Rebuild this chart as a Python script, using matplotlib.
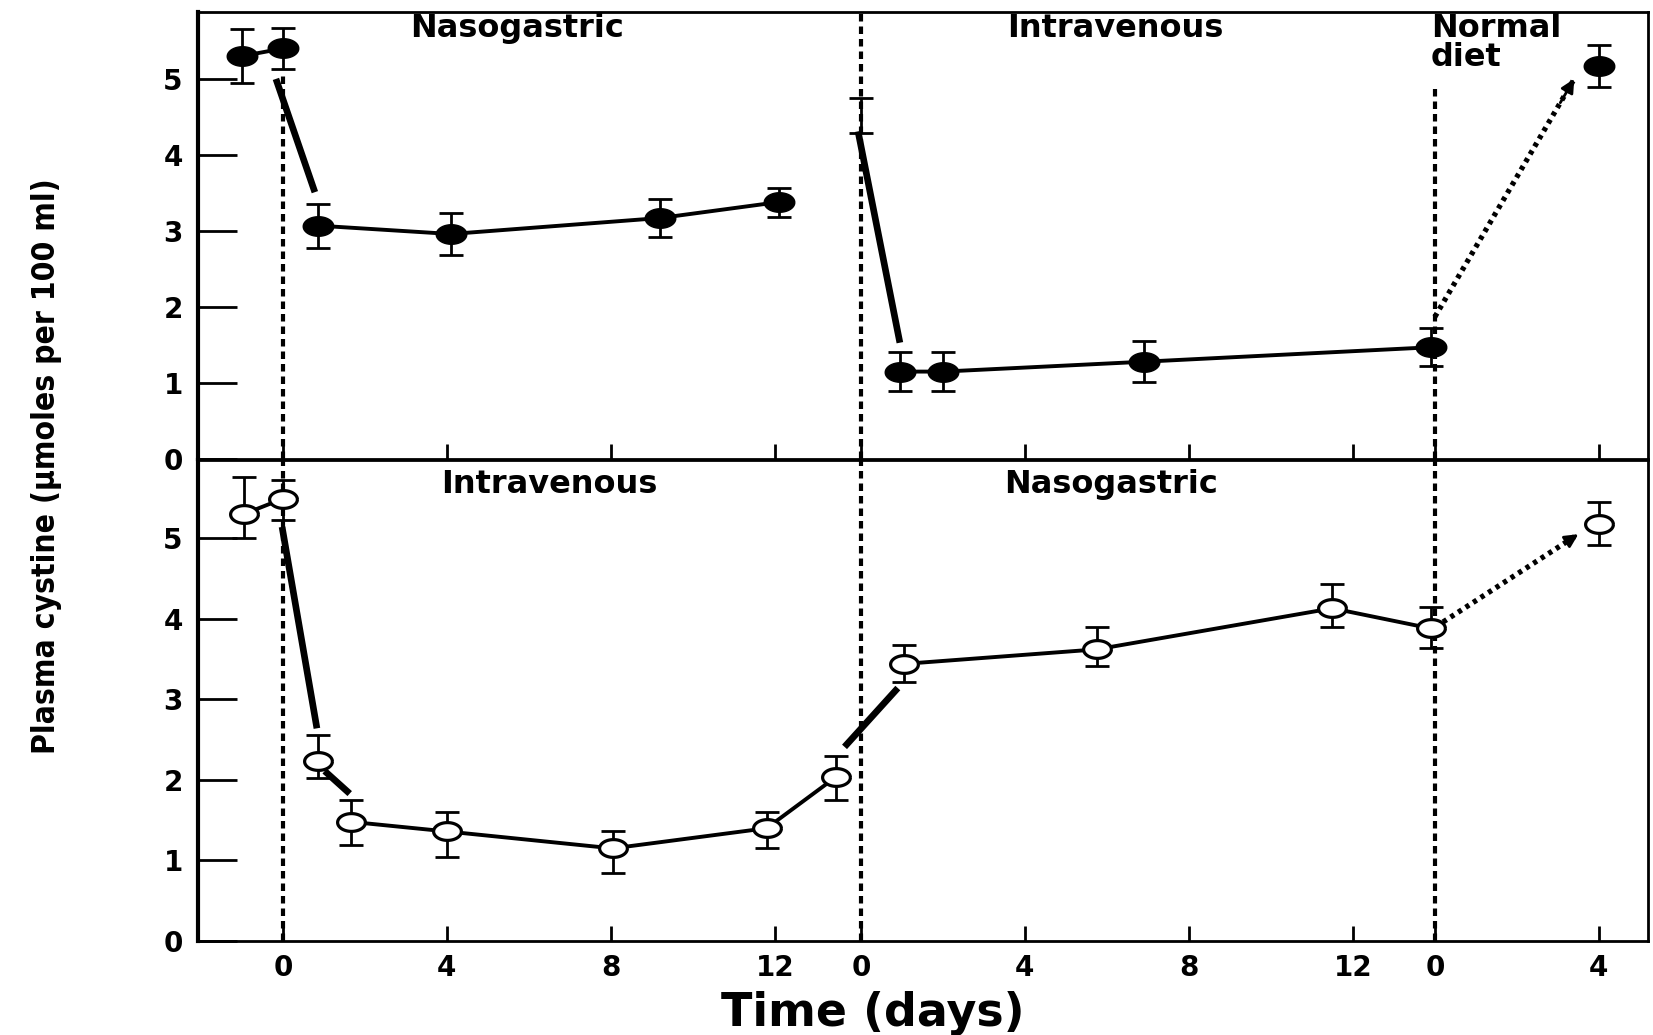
import numpy as np
import matplotlib
matplotlib.use('Agg')
import matplotlib.pyplot as plt
from matplotlib.path import Path
from matplotlib import font_manager as fm

# ---------------- data ----------------
# start of each phase on the shared time axis (days)
phase_offsets = [0.0, 14.1, 28.1]

tick_days = [0, 4, 8, 12, 0, 4, 8, 12, 0, 4]
tick_phase = [0, 0, 0, 0, 1, 1, 1, 1, 2, 2]
tick_labels = ['0', '4', '8', '12', '0', '4', '8', '12', '0', '4']
y_ticks = [0, 1, 2, 3, 4, 5]

# Top panel (filled circles): Nasogastric -> Intravenous -> Normal diet
top_p1_days = [-1.0, 0.0, 0.85, 4.1, 9.2, 12.1]
top_p1_vals = [5.30, 5.40, 3.07, 2.96, 3.17, 3.38]
top_p1_err = [0.35, 0.27, 0.29, 0.27, 0.25, 0.19]
top_p2_start_day = [0.0]
top_p2_start_val = [4.52]
top_p2_start_err = [0.23]
top_p2_days = [0.95, 2.0, 6.9, 13.9]
top_p2_vals = [1.15, 1.15, 1.28, 1.47]
top_p2_err = [0.26, 0.26, 0.27, 0.25]
top_p3_days = [4.0]
top_p3_vals = [5.17]
top_p3_err = [0.27]
# transition strokes
top_drop1_days = [-0.17, 0.78]
top_drop1_vals = [5.00, 3.51]
top_drop2_days = [-0.07, 0.95]
top_drop2_vals = [4.31, 1.53]
top_diet_days = [0.0, 3.4]
top_diet_vals = [1.87, 5.00]

# Bottom panel (open circles): Intravenous -> Nasogastric -> Normal diet
bot_p1_days = [-0.95, 0.0, 0.85, 1.65, 4.0, 8.05, 11.8, 13.5]
bot_p1_vals = [5.30, 5.49, 2.24, 1.48, 1.36, 1.15, 1.40, 2.04]
bot_p1_err_lo = [0.30, 0.27, 0.22, 0.29, 0.32, 0.31, 0.25, 0.29]
bot_p1_err_hi = [0.46, 0.23, 0.32, 0.27, 0.24, 0.21, 0.20, 0.26]
bot_p2_days = [1.05, 5.75, 11.5, 13.9]
bot_p2_vals = [3.44, 3.62, 4.13, 3.88]
bot_p2_err_lo = [0.22, 0.21, 0.23, 0.24]
bot_p2_err_hi = [0.23, 0.28, 0.30, 0.26]
bot_p3_days = [4.0]
bot_p3_vals = [5.18]
bot_p3_err = [0.27]
bot_drop_days = [-0.02, 0.83]
bot_drop_vals = [5.14, 2.64]
bot_seg_days = [1.02, 1.63]
bot_seg_vals = [2.11, 1.83]
bot_rise_days = [13.7, 15.0]
bot_rise_vals = [2.41, 3.14]
bot_diet_days = [0.2, 3.5]
bot_diet_vals = [3.96, 5.05]

top_labels = ['Nasogastric', 'Intravenous']
bot_labels = ['Intravenous', 'Nasogastric']
diet_label = 'Normal\ndiet'
y_label = 'Plasma cystine (μmoles per 100 ml)'
x_label = 'Time (days)'


def gx(days, phase):
    return np.asarray(days, dtype=float) + phase_offsets[phase]


# ---------------- fonts ----------------
def find_narrow_font():
    prefs = ['liberationsansnarrow-bold.', 'dejavusanscondensed-bold.',
             'liberationsansnarrow-regular', 'dejavusanscondensed.']
    files = [f.fname for f in fm.fontManager.ttflist]
    for p in prefs:
        for fn in files:
            if p in fn.lower().replace(' ', ''):
                return fm.FontProperties(fname=fn)
    for fn in files:
        low = fn.lower()
        if ('narrow' in low or 'condensed' in low) and 'italic' not in low \
                and 'oblique' not in low and 'mono' not in low and 'serif' not in low:
            return fm.FontProperties(fname=fn)
    return fm.FontProperties(family='DejaVu Sans')


narrow_fp = find_narrow_font()

# ---------------- style ----------------
BOLD = dict(fontweight='bold', family='DejaVu Sans')
t = np.linspace(0, 2 * np.pi, 73)
ellipse = Path(np.column_stack([np.cos(t), 0.64 * np.sin(t)]))
LW_LINE = 2.8
LW_DROP = 4.8
EB = dict(fmt='none', ecolor='black', elinewidth=2.0, capsize=8.5, capthick=2.0, zorder=3)
FILLED = dict(linestyle='none', marker=ellipse, markersize=22, color='black', zorder=5)
OPEN = dict(linestyle='none', marker=ellipse, markersize=20, markerfacecolor='white',
            markeredgecolor='black', markeredgewidth=2.3, zorder=5)
DASH = dict(color='black', lw=3.0, linestyle=(0, (1.8, 1.2)), zorder=1)
DOT = dict(color='black', lw=3.8, linestyle=(0, (0.8, 0.9)), zorder=2)

fig = plt.figure(figsize=(16.53, 10.35), dpi=100)
ax_top = fig.add_axes([0.1198, 0.5565, 0.8772, 0.4319])
ax_bot = fig.add_axes([0.1198, 0.0908, 0.8772, 0.4647])

xt = [d + phase_offsets[p] for d, p in zip(tick_days, tick_phase)]
for ax, ytop in ((ax_top, 5.88), (ax_bot, 5.97)):
    ax.set_xlim(-2.07, 33.3)
    ax.set_ylim(0, ytop)
    ax.set_yticks(y_ticks)
    ax.set_yticklabels([str(v) for v in y_ticks], fontsize=20, **BOLD)
    ax.set_xticks(xt)
    ax.tick_params(axis='y', direction='in', length=28, width=2.0, pad=11)
    ax.tick_params(axis='x', direction='in', length=11, width=2.0, pad=9)
    for s in ax.spines.values():
        s.set_linewidth(2.0)
    ax.spines['left'].set_linewidth(3.0)

ax_top.set_xticklabels([])
ax_bot.set_xticklabels(tick_labels, fontsize=20, **BOLD)

# phase boundaries
ax_top.plot([phase_offsets[0]] * 2, [0, 5.05], **DASH)
ax_top.plot([phase_offsets[1]] * 2, [0, 5.88], **DASH)
ax_top.plot([phase_offsets[2]] * 2, [0, 4.93], **DASH)
for p in range(3):
    ax_bot.plot([phase_offsets[p]] * 2, [0, 5.97], **DASH)


def arrow_head(ax, xs, ys):
    ax.annotate('', xy=(xs[1], ys[1]),
                xytext=(xs[1] - 0.1 * (xs[1] - xs[0]), ys[1] - 0.1 * (ys[1] - ys[0])),
                arrowprops=dict(arrowstyle='-|>', color='black', lw=2, mutation_scale=20,
                                shrinkA=0, shrinkB=0), zorder=3)


# ---------- top panel ----------
x1 = gx(top_p1_days, 0)
ax_top.plot(x1[:2], top_p1_vals[:2], color='black', lw=LW_LINE, zorder=4)
ax_top.plot(x1[2:], top_p1_vals[2:], color='black', lw=LW_LINE, zorder=4)
ax_top.errorbar(x1, top_p1_vals, yerr=top_p1_err, **EB)
ax_top.plot(x1, top_p1_vals, **FILLED)

ax_top.errorbar(gx(top_p2_start_day, 1), top_p2_start_val, yerr=top_p2_start_err, **EB)
x2 = gx(top_p2_days, 1)
ax_top.plot(x2, top_p2_vals, color='black', lw=LW_LINE, zorder=4)
ax_top.errorbar(x2, top_p2_vals, yerr=top_p2_err, **EB)
ax_top.plot(x2, top_p2_vals, **FILLED)

x3 = gx(top_p3_days, 2)
ax_top.errorbar(x3, top_p3_vals, yerr=top_p3_err, **EB)
ax_top.plot(x3, top_p3_vals, **FILLED)

ax_top.plot(gx(top_drop1_days, 0), top_drop1_vals, color='black', lw=LW_DROP,
            solid_capstyle='butt', zorder=4)
ax_top.plot(gx(top_drop2_days, 1), top_drop2_vals, color='black', lw=LW_DROP,
            solid_capstyle='butt', zorder=4)
xd = gx(top_diet_days, 2)
ax_top.plot(xd, top_diet_vals, **DOT)
arrow_head(ax_top, xd, top_diet_vals)

# ---------- bottom panel ----------
b1 = gx(bot_p1_days, 0)
ax_bot.plot(b1[:2], bot_p1_vals[:2], color='black', lw=LW_LINE, zorder=4)
ax_bot.plot(b1[3:], bot_p1_vals[3:], color='black', lw=LW_LINE, zorder=4)
ax_bot.errorbar(b1, bot_p1_vals, yerr=[bot_p1_err_lo, bot_p1_err_hi], **EB)
ax_bot.plot(b1, bot_p1_vals, **OPEN)

b2 = gx(bot_p2_days, 1)
ax_bot.plot(b2, bot_p2_vals, color='black', lw=LW_LINE, zorder=4)
ax_bot.errorbar(b2, bot_p2_vals, yerr=[bot_p2_err_lo, bot_p2_err_hi], **EB)
ax_bot.plot(b2, bot_p2_vals, **OPEN)

b3 = gx(bot_p3_days, 2)
ax_bot.errorbar(b3, bot_p3_vals, yerr=bot_p3_err, **EB)
ax_bot.plot(b3, bot_p3_vals, **OPEN)

for d, v in ((bot_drop_days, bot_drop_vals), (bot_seg_days, bot_seg_vals),
             (bot_rise_days, bot_rise_vals)):
    ax_bot.plot(gx(d, 0), v, color='black', lw=LW_DROP, solid_capstyle='butt', zorder=4)
bd = gx(bot_diet_days, 2)
ax_bot.plot(bd, bot_diet_vals, **DOT)
arrow_head(ax_bot, bd, bot_diet_vals)

# ---------- annotations ----------
tt = ax_top.get_xaxis_transform()
tb = ax_bot.get_xaxis_transform()
LAB = dict(ha='center', va='center', fontsize=23, **BOLD)
ax_top.text(5.7, 0.962, top_labels[0], transform=tt, **LAB)
ax_top.text(20.3, 0.962, top_labels[1], transform=tt, **LAB)
ax_top.text(28.0, 0.998, diet_label, transform=tt, ha='left', va='top', fontsize=23,
            linespacing=0.9, **BOLD)
ax_bot.text(6.5, 0.95, bot_labels[0], transform=tb, **LAB)
ax_bot.text(20.2, 0.95, bot_labels[1], transform=tb, **LAB)

ylab = fig.text(0.0284, 0.5498, y_label, rotation=90, ha='center', va='center',
                fontproperties=narrow_fp, fontsize=30)
# fit the label to the length it has in the reference (about 575 px)
fig.canvas.draw()
h = ylab.get_window_extent(fig.canvas.get_renderer()).height
ylab.set_fontsize(min(40, 30 * 575.0 / h))

fig.text(0.528, 0.0203, x_label, ha='center', va='center', fontsize=33, **BOLD)

fig.savefig('out.png', dpi=100)
